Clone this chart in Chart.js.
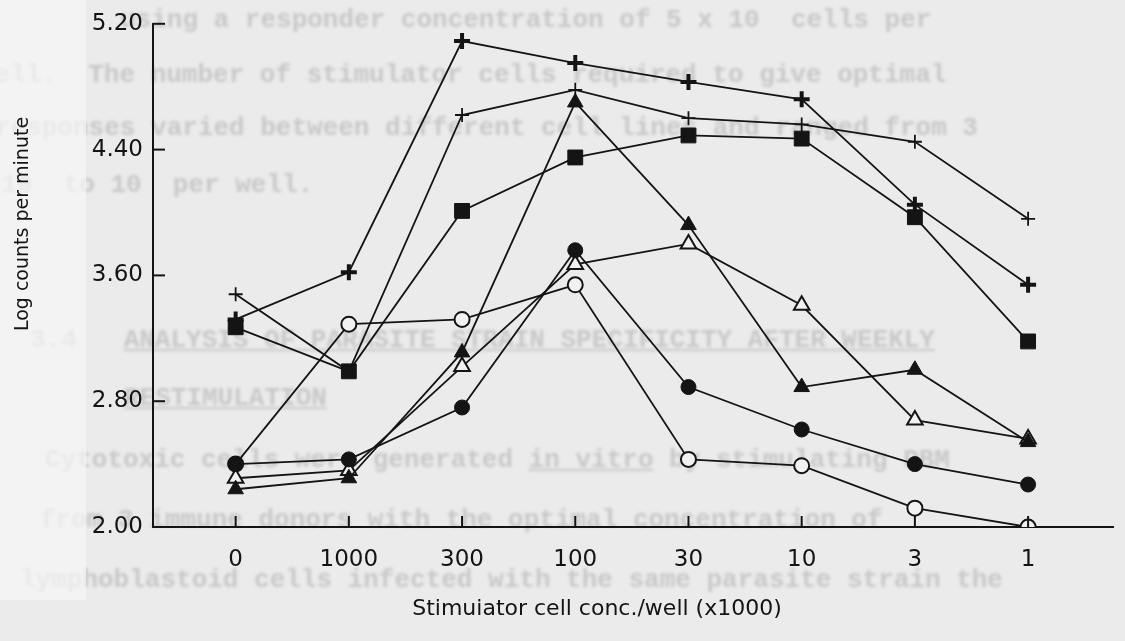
<!DOCTYPE html>
<html>
<head>
<meta charset="utf-8">
<script src="https://cdn.jsdelivr.net/npm/chart.js@4"></script>
<style>
    body { margin: 0; background: #ebebeb; }
    #page { position: relative; width: 1125px; height: 641px; overflow: hidden; background: #ebebeb; }
    .ghost { position: absolute; font-family: "Liberation Mono", monospace; font-weight: bold; font-size: 26px;
             line-height: 30px; color: #c8c8c8; white-space: pre; filter: blur(1.7px); }
    .ul { text-decoration: underline; }
    #strip { position: absolute; left: 0; top: 0; width: 86px; height: 600px; background: rgba(246,246,246,0.7); }
    #chartWrap { position: absolute; left: 0; top: 0; }
</style>
</head>
<body>
<div id="page">
    <!-- faded typewriter text showing through the scanned page -->
    <div class="ghost" style="left:120px; top:5px;">using a responder concentration of 5 x 10  cells per</div>
    <div class="ghost" style="left:-21px; top:60px;">well.  The number of stimulator cells required to give optimal</div>
    <div class="ghost" style="left:-5px; top:113px;">responses varied between different cell lines and ranged from 3</div>
    <div class="ghost" style="left:-30px; top:170px;">x 10  to 10  per well.</div>
    <div class="ghost" style="left:30px; top:325px;">3.4   <span class="ul">ANALYSIS OF PARASITE STRAIN SPECIFICITY AFTER WEEKLY</span></div>
    <div class="ghost" style="left:124px; top:383px;"><span class="ul">RESTIMULATION</span></div>
    <div class="ghost" style="left:45px; top:445px;">Cytotoxic cells were generated <span class="ul">in vitro</span> by stimulating PBM</div>
    <div class="ghost" style="left:40px; top:505px;">from 3 immune donors with the optimal concentration of</div>
    <div class="ghost" style="left:20px; top:565px;">lymphoblastoid cells infected with the same parasite strain the</div>
    <div id="strip"></div>
    <div id="chartWrap"><canvas id="mlrChart" width="1125" height="641"></canvas></div>
</div>
<script>
// Stimulator concentrations (x1000 per well)
const xLabels = ['0', '1000', '300', '100', '30', '10', '3', '1'];
const yTicks = [2.00, 2.80, 3.60, 4.40, 5.20];

// Log counts per minute, one array per cell line
const filledSquare   = [3.27, 2.99, 4.01, 4.35, 4.49, 4.47, 3.97, 3.18];
const filledCircle   = [2.40, 2.43, 2.76, 3.76, 2.89, 2.62, 2.40, 2.27];
const filledTriangle = [2.24, 2.31, 3.11, 4.70, 3.92, 2.89, 3.00, 2.54];
const boldPlus       = [3.32, 3.62, 5.09, 4.95, 4.83, 4.72, 4.05, 3.54];
const thinPlus       = [3.48, 2.99, 4.62, 4.78, 4.60, 4.56, 4.45, 3.96];
const openTriangle   = [2.31, 2.36, 3.02, 3.67, 3.80, 3.41, 2.68, 2.56];
const openCircle     = [2.40, 3.29, 3.32, 3.54, 2.43, 2.39, 2.12, 2.00];

const ink = '#141414';
const paper = '#f1f1f1';

function series(values, style, fill, radius, border) {
    return {
        data: values.map(function(v, i) { return { x: i, y: v }; }),
        borderColor: ink,
        borderWidth: 1.8,
        pointStyle: style,
        pointRadius: radius,
        pointBorderWidth: border,
        pointBackgroundColor: fill,
        pointBorderColor: ink,
        fill: false,
        tension: 0
    };
}

// inward tick marks and the two axis titles
const axisExtras = {
    id: 'axisExtras',
    afterDraw: function(chart) {
        const c = chart.ctx;
        const xs = chart.scales.x;
        const ys = chart.scales.y;
        c.save();
        c.strokeStyle = ink;
        c.lineWidth = 2;
        yTicks.forEach(function(v) {
            if (v === 2.00) return;
            const py = ys.getPixelForValue(v);
            c.beginPath();
            c.moveTo(xs.left, py);
            c.lineTo(xs.left + 12, py);
            c.stroke();
        });
        xLabels.forEach(function(l, i) {
            const px = xs.getPixelForValue(i);
            c.beginPath();
            c.moveTo(px, ys.bottom);
            c.lineTo(px, ys.bottom - 11);
            c.stroke();
        });
        c.fillStyle = ink;
        c.font = '22px "DejaVu Sans"';
        c.textAlign = 'center';
        c.textBaseline = 'middle';
        c.fillText('Stimuiator cell conc./well (x1000)', 597, 609);
        c.translate(23, 224);
        c.rotate(-Math.PI / 2);
        c.font = '19px "DejaVu Sans"';
        c.fillText('Log counts per minute', 0, 0);
        c.restore();
    }
};

const ctx = document.getElementById('mlrChart').getContext('2d');
const chart = new Chart(ctx, {
    type: 'line',
    data: {
        datasets: [
            series(filledSquare, 'rect', ink, 10.5, 1),
            series(filledCircle, 'circle', ink, 7.5, 1),
            series(filledTriangle, 'triangle', ink, 9, 1),
            series(boldPlus, 'cross', ink, 8, 4),
            series(thinPlus, 'cross', ink, 7, 1.8),
            series(openTriangle, 'triangle', paper, 9, 2),
            series(openCircle, 'circle', paper, 7.5, 2)
        ]
    },
    options: {
        responsive: false,
        animation: false,
        layout: { padding: { top: 22, right: 5, left: 0, bottom: 0 } },
        plugins: {
            legend: { display: false },
            tooltip: { enabled: false }
        },
        scales: {
            x: {
                type: 'linear',
                min: -0.73,
                max: 7.75,
                grid: { display: false, drawTicks: false },
                border: { display: true, color: ink, width: 2 },
                afterBuildTicks: function(scale) {
                    scale.ticks = xLabels.map(function(l, i) { return { value: i }; });
                },
                afterFit: function(scale) { scale.height = 114; },
                ticks: {
                    padding: 19,
                    color: ink,
                    font: { family: 'DejaVu Sans', size: 23 },
                    callback: function(value) { return xLabels[value]; }
                }
            },
            y: {
                min: 2.0,
                max: 5.2,
                grid: { display: false, drawTicks: false },
                border: { display: true, color: ink, width: 2 },
                afterBuildTicks: function(scale) {
                    scale.ticks = yTicks.map(function(v) { return { value: v }; });
                },
                afterFit: function(scale) { scale.width = 153; },
                ticks: {
                    padding: 10,
                    color: ink,
                    font: { family: 'DejaVu Sans', size: 23 },
                    callback: function(value) { return value.toFixed(2); }
                }
            }
        }
    },
    plugins: [axisExtras]
});
</script>
</body>
</html>
